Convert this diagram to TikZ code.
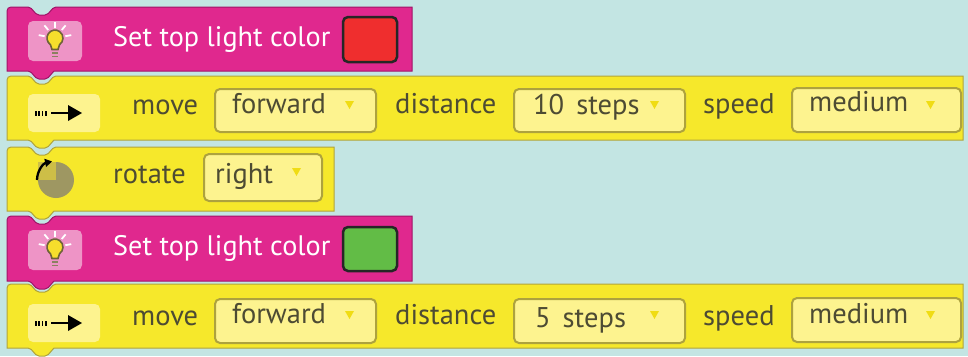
\documentclass[tikz,border=0pt]{standalone}
\usepackage{fontspec}
\setmainfont{PT Sans}
\usetikzlibrary{arrows.meta}
\definecolor{bgteal}{HTML}{C3E5E3}
\definecolor{lightmag}{HTML}{E0288E}
\definecolor{magedge}{HTML}{A01468}
\definecolor{iconpink}{HTML}{EE94C6}
\definecolor{blockyel}{HTML}{F6E82B}
\definecolor{yeledge}{HTML}{B0A43C}
\definecolor{boxyel}{HTML}{FDF38F}
\definecolor{boxedge}{HTML}{ADA23E}
\definecolor{caretyel}{HTML}{F0DC14}
\definecolor{labgray}{HTML}{4D4B33}
\definecolor{lampred}{HTML}{EF2E2E}
\definecolor{lampgreen}{HTML}{62BC46}
\definecolor{dialgray}{HTML}{9E9762}
\definecolor{dialhi}{HTML}{CDBE47}
\definecolor{bulbyel}{HTML}{F6DE2C}
\definecolor{bulbedge}{HTML}{6E6238}

% block outline: style, top, bottom, right end
\newcommand{\puzzleblock}[4]{%
\filldraw[#1] (7,#3) -- (7,#2+4) arc (180:270:4) [rounded corners=2pt] -- (30,#2) -- (37,#2+8) -- (47,#2+8) -- (54,#2) [sharp corners] -- (#4,#2) -- (#4,#3) -- (54,#3) [rounded corners=2pt] -- (47,#3+8) -- (37,#3+8) -- (30,#3) [sharp corners] -- cycle;}
% light bulb icon, shifted down by #1
\newcommand{\bulbicon}[1]{%
\begin{scope}[yshift=-#1pt]
\fill[iconpink, rounded corners=5pt] (28,21) rectangle (82,61);
\foreach \a in {10,50,90,130,170} \draw[white, line width=1.8pt] (55,38) ++(-\a:10.5) -- ++(-\a:6);
\filldraw[fill=bulbyel, draw=bulbedge, line width=1.6pt] (52,49.5) -- (50.4,44.6) arc (125:415:8) -- (58,49.5) -- cycle;
\draw[bulbedge!80, line width=1.4pt] (52,53) -- (58,53) (52,56.5) -- (58,56.5); %base
\end{scope}}
% move arrow icon, shifted down by #1
\newcommand{\moveicon}[1]{%
\begin{scope}[yshift=-#1pt]
\fill[boxyel, rounded corners=5pt] (28,94) rectangle (100,132);
\foreach \x in {35,38.3,41.6,45} \fill (\x,110.5) rectangle ++(1.7,5);
\draw[line width=2.6pt] (51,113) -- (70,113);
\fill (68,105) -- (82,113) -- (68,121) -- cycle;
\end{scope}}

\begin{document}
\begin{tikzpicture}[x=1pt,y=-1pt,
  magblock/.style={fill=lightmag, draw=magedge, line width=1pt},
  yelblock/.style={fill=blockyel, draw=yeledge, line width=1pt},
  dropbox/.style={fill=boxyel, draw=boxedge, line width=2pt, rounded corners=5pt},
  blocklabel/.style={anchor=base west, inner sep=0pt, text=labgray, font=\fontsize{28.5}{31}\selectfont},
  whitelabel/.style={blocklabel, text=white, font=\fontsize{28.2}{31}\selectfont},
  caret/.style={fill=caretyel},
  swatch/.style={draw=black!85, line width=2.5pt, rounded corners=5pt}]
\useasboundingbox (0,0) rectangle (968,356);
\fill[bgteal] (0,0) rectangle (968,356);

%%% blocks, bottom one first
\puzzleblock{yelblock}{284}{348}{963} %move 2
\puzzleblock{magblock}{216}{281}{412} %light 2
\puzzleblock{yelblock}{147}{211}{334} %rotate
\puzzleblock{yelblock}{76}{140}{963} %move 1
\puzzleblock{magblock}{7}{71}{412} %light 1

%%% set top light color (red)
\bulbicon{0}
\node[whitelabel] (light1) at (113,46) {Set top light color};
\draw[swatch, fill=lampred] (343,17) rectangle (397,62);

%%% move forward 10 steps
\moveicon{0}
\node[blocklabel] (move1) at (132,114) {move};
\draw[dropbox] (215,89) rectangle (376,132);
\node[blocklabel] (dir1) at (232,113) {forward};
\fill[caret] (345,101) -- ++(9,0) -- ++(-4.5,8) -- cycle;
\node[blocklabel] (dist1) at (395,113) {distance};
\draw[dropbox] (514,89) rectangle (685,132);
\node[blocklabel] (steps1) at (533,114) {10\hspace{12pt}steps};
\fill[caret] (650,101) -- ++(9,0) -- ++(-4.5,8) -- cycle;
\node[blocklabel] (speed1) at (703,113) {speed};
\draw[dropbox] (792,88) rectangle (961,132);
\node[blocklabel] (pace1) at (809,111) {medium};
\fill[caret] (926,101) -- ++(9,0) -- ++(-4.5,8) -- cycle;

%%% rotate right
\fill[dialgray] (56,180) circle (18);
\fill[dialhi] (38,162) rectangle (56,180);
\draw[line width=2.3pt, -{Triangle[length=7pt,width=8pt]}] (37,180) arc (180:258:19);
\node[blocklabel] (turn) at (113,183) {rotate};
\draw[dropbox] (204,154) rectangle (322,201);
\node[blocklabel] (side) at (215,183) {right};
\fill[caret] (292,168) -- ++(9,0) -- ++(-4.5,8) -- cycle;

%%% set top light color (green)
\bulbicon{209}
\node[whitelabel] (light2) at (113,255) {Set top light color};
\draw[swatch, fill=lampgreen] (343,227) rectangle (397,271);

%%% move forward 5 steps
\moveicon{210}
\node[blocklabel] (move2) at (132,325) {move};
\draw[dropbox] (215,299) rectangle (376,343);
\node[blocklabel] (dir2) at (232,323) {forward};
\fill[caret] (345,311) -- ++(9,0) -- ++(-4.5,8) -- cycle;
\node[blocklabel] (dist2) at (395,324) {distance};
\draw[dropbox] (514,299) rectangle (685,343);
\node[blocklabel] (steps2) at (535,327) {5\hspace{12pt}steps};
\fill[caret] (650,311) -- ++(9,0) -- ++(-4.5,8) -- cycle;
\node[blocklabel] (speed2) at (703,325) {speed};
\draw[dropbox] (792,298) rectangle (961,342);
\node[blocklabel] (pace2) at (809,323) {medium};
\fill[caret] (926,311) -- ++(9,0) -- ++(-4.5,8) -- cycle;
\end{tikzpicture}
\end{document}
